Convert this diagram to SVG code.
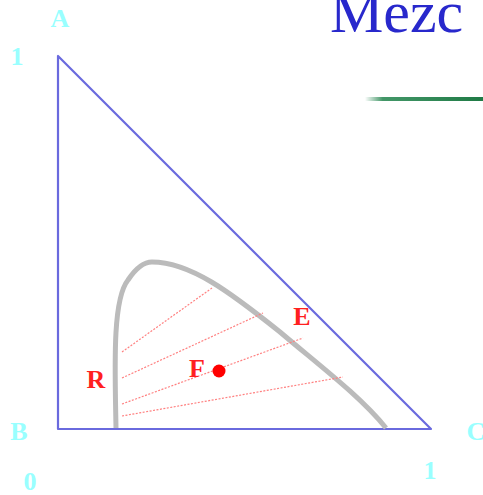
<svg xmlns="http://www.w3.org/2000/svg" width="483" height="495" viewBox="0 0 483 495">
<style>
.lbl{font-family:"Liberation Serif",serif;font-size:26px;font-weight:bold;fill:#99ffff;text-anchor:middle}
.red{font-family:"Liberation Serif",serif;font-size:26px;font-weight:bold;fill:#ff2020;text-anchor:middle}
.tie{stroke:#ff8080;stroke-width:1.2;stroke-dasharray:2 1.5;fill:none}
</style>
<defs>
<linearGradient id="g" x1="0" x2="1" y1="0" y2="0">
<stop offset="0" stop-color="#2e8b57" stop-opacity="0"/>
<stop offset="0.15" stop-color="#2e8b57" stop-opacity="0.9"/>
<stop offset="1" stop-color="#1f7a45"/>
</linearGradient>
</defs>
<rect width="483" height="495" fill="#fff"/>
<text x="330" y="32" font-family="Liberation Serif,serif" font-size="60" fill="#2828cc">Mezc</text>
<rect x="365" y="97" width="118" height="4" fill="url(#g)"/>
<g id="triangle">
<path d="M58,56 L58,429 L431,429 Z" fill="none" stroke="#6a6ade" stroke-width="2.2" stroke-linejoin="round"/>
</g>
<g id="curve">
<path d="M116,428 C115,370 112,300 128,280 C136,268 143,262 152,262 C190,262 230,292 280,332 C320,366 360,396 386,428" fill="none" stroke="#bbbbbb" stroke-width="5"/>
</g>
<g id="connectors">
<line class="tie" x1="122" y1="352" x2="212" y2="288"/>
<line class="tie" x1="122" y1="378" x2="263" y2="313"/>
<line class="tie" x1="122" y1="404" x2="303" y2="338"/>
<line class="tie" x1="122" y1="416" x2="343" y2="377"/>
</g>
<g id="F"><circle cx="219" cy="371" r="6.5" fill="#ff0000"/><text class="red" x="197" y="377">F</text></g>
<g id="R"><text class="red" x="96" y="388">R</text></g>
<g id="E"><text class="red" x="302" y="325">E</text></g>
<g id="labels">
<text class="lbl" x="60" y="27">A</text>
<text class="lbl" x="17" y="65">1</text>
<text class="lbl" x="19" y="440">B</text>
<text class="lbl" x="30" y="490">0</text>
<text class="lbl" x="476" y="440">C</text>
<text class="lbl" x="430" y="479">1</text>
</g>
</svg>
